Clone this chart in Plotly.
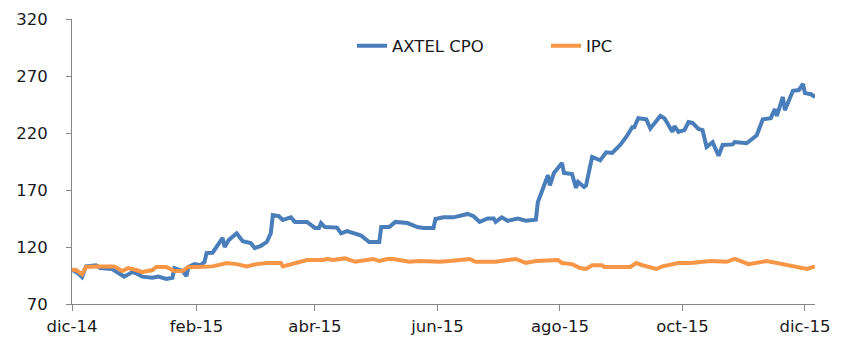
import plotly.graph_objects as go

axtel_dates = ["2014-12-01","2014-12-04","2014-12-06","2014-12-08","2014-12-13","2014-12-15","2014-12-21","2014-12-27","2014-12-31",
    "2015-01-02","2015-01-05","2015-01-10","2015-01-13","2015-01-17","2015-01-20","2015-01-21","2015-01-25","2015-01-27","2015-01-28","2015-01-31",
    "2015-02-03","2015-02-05","2015-02-06","2015-02-09","2015-02-14","2015-02-15","2015-02-17","2015-02-21","2015-02-24","2015-02-28",
    "2015-03-02","2015-03-05","2015-03-08","2015-03-10","2015-03-11","2015-03-14","2015-03-16","2015-03-20","2015-03-22","2015-03-28",
    "2015-04-01","2015-04-03","2015-04-04","2015-04-06","2015-04-12","2015-04-14","2015-04-17","2015-04-24","2015-04-28",
    "2015-05-03","2015-05-04","2015-05-08","2015-05-11","2015-05-17","2015-05-22","2015-05-25","2015-05-30","2015-05-31",
    "2015-06-04","2015-06-09","2015-06-16","2015-06-19","2015-06-22","2015-06-26","2015-06-29","2015-06-30",
    "2015-07-03","2015-07-06","2015-07-11","2015-07-15","2015-07-20","2015-07-21","2015-07-26","2015-07-27","2015-07-29",
    "2015-08-02","2015-08-03","2015-08-07","2015-08-09","2015-08-10","2015-08-13","2015-08-14","2015-08-17","2015-08-21","2015-08-24","2015-08-27","2015-08-31",
    "2015-09-03","2015-09-06","2015-09-07","2015-09-09","2015-09-13","2015-09-15","2015-09-20","2015-09-22","2015-09-26","2015-09-27","2015-09-29",
    "2015-10-02","2015-10-04","2015-10-06","2015-10-09","2015-10-11","2015-10-13","2015-10-16","2015-10-19","2015-10-21","2015-10-26","2015-10-27",
    "2015-11-02","2015-11-07","2015-11-10","2015-11-14","2015-11-16","2015-11-17","2015-11-20","2015-11-21","2015-11-25","2015-11-28","2015-11-30",
    "2015-12-01","2015-12-04","2015-12-06"]
axtel_values = [100,97,93.7,103,104,101.5,100.7,94,98,
    97,94,93,94,92,93,101.5,99,94.5,102.5,105,
    104,107,114.7,115,128,120,126,132,125,123.5,
    119,121,124.4,132,148,147,143.7,146,142,142,
    136.7,136.7,141,137.5,137,132,134,130,124.4,
    124.4,137.5,137.5,142,141,137.5,136.7,136.7,144.6,
    146,146,149,147,142,145,145,142,
    146,143,145,143,144,159.5,183,174,185,
    193.7,185,184,171.8,177,172.6,174,199,196,203,202.5,209.5,
    216.5,225,225,233,232,224,235,233,221,226,221,
    222.6,229.6,229,223.5,222.6,207.7,212,200,209.5,210,212,
    211,218,232,233,241,235,251.6,240,257,257.7,263,
    255,254,251.6]

ipc_dates = ["2014-12-01","2014-12-03","2014-12-06","2014-12-08","2014-12-13","2014-12-22","2014-12-26","2014-12-29",
    "2015-01-02","2015-01-05","2015-01-10","2015-01-12","2015-01-17","2015-01-21","2015-01-25","2015-01-28",
    "2015-02-01","2015-02-04","2015-02-09","2015-02-16","2015-02-21","2015-02-26",
    "2015-03-03","2015-03-08","2015-03-15","2015-03-16","2015-03-23","2015-03-28",
    "2015-04-05","2015-04-07","2015-04-10","2015-04-16","2015-04-21","2015-04-26","2015-04-30",
    "2015-05-03","2015-05-07","2015-05-10","2015-05-18","2015-05-23",
    "2015-06-02","2015-06-07","2015-06-17","2015-06-20","2015-06-30",
    "2015-07-10","2015-07-15","2015-07-20","2015-07-31",
    "2015-08-02","2015-08-07","2015-08-11","2015-08-14","2015-08-17","2015-08-22","2015-08-23","2015-08-31",
    "2015-09-05","2015-09-08","2015-09-11","2015-09-18","2015-09-21","2015-09-29",
    "2015-10-05","2015-10-15","2015-10-23","2015-10-27",
    "2015-11-03","2015-11-12","2015-11-20",
    "2015-12-02","2015-12-06"]
ipc_values = [100,99.8,96,102.5,103,103,99,101.5,
    99.8,98,99.8,102.5,102.5,99,99,102.5,
    102.5,103,103,106,105,103,
    105,106,106,103,106,108.6,
    108.6,109.5,108.6,110,107,108.6,109.5,
    107.7,109.5,109.5,107,107.7,
    107,107.7,109.5,107,107,
    109.5,106,107.7,108.6,
    106,105,101.6,100.7,104,104,102.5,102.5,
    102.5,106,104,100.7,103,106,
    106,107.7,107,109.5,
    105,107.7,105,
    100.7,103]

tick_dates = ["2014-12-01","2015-02-01","2015-04-01","2015-06-01","2015-08-01","2015-10-01","2015-12-01"]
tick_labels = ["dic-14","feb-15","abr-15","jun-15","ago-15","oct-15","dic-15"]
y_ticks = [70,120,170,220,270,320]

FONT = "DejaVu Sans"
TXT = "#1a1a1a"
AXC = "#868686"

fig = go.Figure()
fig.add_trace(go.Scatter(x=axtel_dates, y=axtel_values, mode="lines", name="AXTEL CPO",
                         line=dict(color="#4A7EBB", width=4)))
fig.add_trace(go.Scatter(x=ipc_dates, y=ipc_values, mode="lines", name="IPC",
                         line=dict(color="#F79646", width=4)))

fig.update_layout(
    width=841, height=352,
    margin=dict(l=72, r=26, t=19, b=48),
    paper_bgcolor="white", plot_bgcolor="white",
    font=dict(family=FONT, size=16.5, color=TXT),
    showlegend=True,
    legend=dict(orientation="h", x=(352-72)/743, xanchor="left", y=(304-46)/285, yanchor="middle",
                entrywidth=149, entrywidthmode="pixels", bgcolor="rgba(0,0,0,0)",
                font=dict(family=FONT, size=16.5, color=TXT)),
    xaxis=dict(type="date", range=["2014-12-01", "2015-12-06"], tickvals=tick_dates, ticktext=tick_labels,
               showgrid=False, zeroline=False, showline=True, linecolor=AXC, linewidth=1, automargin=False,
               ticks="outside", ticklen=6, tickcolor=AXC, tickwidth=1, ticklabelstandoff=1),
    yaxis=dict(range=[70, 320], tickvals=y_ticks, showgrid=False, zeroline=False, automargin=False,
               showline=True, linecolor=AXC, linewidth=1,
               ticks="outside", ticklen=5, tickcolor=AXC, tickwidth=1, ticklabelstandoff=15),
)

fig.write_html("out.html")
